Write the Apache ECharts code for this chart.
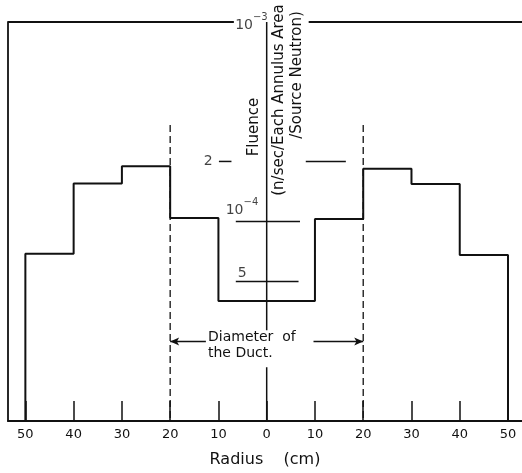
<!DOCTYPE html>
<html>
<head>
<meta charset="utf-8">
<script src="https://cdn.jsdelivr.net/npm/echarts@6/dist/echarts.min.js"></script>
<style>
html,body{margin:0;padding:0;background:#fff;}
#c{width:522px;height:473px;}
</style>
</head>
<body>
<div id="c"></div>
<script>
// ---- data ----
var binEdges = [-50, -40, -30, -20, -10, 10, 20, 30, 40, 50];
var fluence = [6.9e-5, 1.55e-4, 1.89e-4, 1.04e-4, 4.0e-5, 1.03e-4, 1.84e-4, 1.54e-4, 6.8e-5];
var xTickValues = [-50, -40, -30, -20, -10, 0, 10, 20, 30, 40, 50];
var yTickValues = [1e-3, 2e-4, 1e-4, 5e-5];
var yTickTexts = ['{b|10}{s|−3}', '2', '{b|10}{s|−4}', '5'];
var ductEdges = [-20, 20];
var yMin = 1e-5, yMax = 1e-3;

// ---- build step outline ----
var stepPts = [[binEdges[0], yMin]];
for (var i = 0; i < fluence.length; i++) {
  stepPts.push([binEdges[i], fluence[i]]);
  stepPts.push([binEdges[i + 1], fluence[i]]);
}
stepPts.push([binEdges[binEdges.length - 1], yMin]);

var ink = '#111';
var FONT = 'DejaVu Sans';
function seg(data, w, type) {
  return {type: 'line', data: data, symbol: 'none', silent: true, z: 3,
    lineStyle: {color: ink, width: w, type: type || 'solid'}, clip: false};
}

var series = [];
series.push(seg(stepPts, 2));
// top frame line (with gap for label)
series.push(seg([[-53.6, yMax], [-6.8, yMax]], 1.8));
series.push(seg([[8.7, yMax], [52.9, yMax]], 1.8));
// central vertical axis (broken for annotation)
series.push(seg([[0, yMax], [0, 2.85e-5]], 1.5));
series.push(seg([[0, 1.86e-5], [0, yMin]], 1.5));
// y tick segments
series.push(seg([[-9.9, 2e-4], [-7.3, 2e-4]], 1.5));
series.push(seg([[8.1, 2e-4], [16.4, 2e-4]], 1.5));
series.push(seg([[-6.4, 1e-4], [6.9, 1e-4]], 1.5));
series.push(seg([[-6.4, 5e-5], [6.6, 5e-5]], 1.5));
// duct dashed lines
ductEdges.forEach(function (d) {
  series.push(seg([[d, 3.05e-4], [d, yMin]], 1.3, [7, 4]));
});
// arrows
series.push({
  type: 'line', data: [], silent: true,
  markLine: {
    silent: true, symbol: ['none', 'arrow'], symbolSize: [6, 9], label: {show: false},
    lineStyle: {color: ink, width: 1.3, type: 'solid'},
    data: [
      [{coord: [-12.6, 2.5e-5]}, {coord: [ductEdges[0], 2.5e-5]}],
      [{coord: [9.7, 2.5e-5]}, {coord: [ductEdges[1], 2.5e-5]}]
    ]
  }
});
// y tick labels
var labelPos = [
  {position: [1, 0], align: 'right', verticalAlign: 'middle'},
  {position: [-54, 0], align: 'right', verticalAlign: 'middle'},
  {position: [-41, -4], align: 'left', verticalAlign: 'bottom'},
  {position: [-29, -1], align: 'left', verticalAlign: 'bottom'}
];
series.push({
  type: 'scatter', symbolSize: 0, silent: true, z: 5,
  data: yTickValues.map(function (v, k) {
    return {value: [0, v], label: Object.assign({show: true, formatter: yTickTexts[k]}, labelPos[k])};
  }),
  label: {
    color: ink, fontFamily: FONT, fontSize: 14,
    rich: {
      b: {fontSize: 14, fontFamily: FONT, color: ink, lineHeight: 20, verticalAlign: 'bottom'},
      s: {fontSize: 10, fontFamily: FONT, color: ink, lineHeight: 20, verticalAlign: 'top'}
    }
  }
});

var chart = echarts.init(document.getElementById('c'), null, {renderer: 'canvas'});
chart.setOption({
  animation: false,
  backgroundColor: '#fff',
  grid: {left: 8, right: 0, top: 22, bottom: 51, containLabel: false},
  xAxis: {
    type: 'value', min: -53.6, max: 52.9,
    axisLine: {show: true, onZero: false, lineStyle: {color: ink, width: 1.8}},
    axisTick: {show: true, inside: true, length: 20, customValues: xTickValues, lineStyle: {color: ink, width: 1.5}},
    axisLabel: {show: true, customValues: xTickValues, margin: 7, color: ink, fontSize: 13, fontFamily: FONT,
      formatter: function (v) { return String(Math.abs(v)); }},
    splitLine: {show: false},
    name: 'Radius    (cm)', nameLocation: 'middle', nameGap: 31,
    nameTextStyle: {color: ink, fontSize: 16, fontFamily: FONT}
  },
  yAxis: {
    type: 'log', min: yMin, max: yMax, logBase: 10,
    axisLine: {show: true, onZero: false, lineStyle: {color: ink, width: 1.8}},
    axisTick: {show: false}, axisLabel: {show: false}, splitLine: {show: false}, minorTick: {show: false}
  },
  graphic: [
    {type: 'text', x: 254, y: 127, rotation: Math.PI / 2, z: 10,
      style: {text: 'Fluence', fontSize: 15, fontFamily: FONT, fill: ink, align: 'center', verticalAlign: 'middle'}},
    {type: 'text', x: 279, y: 100, rotation: Math.PI / 2, z: 10,
      style: {text: '(n/sec/Each Annulus Area', fontSize: 15, fontFamily: FONT, fill: ink, align: 'center', verticalAlign: 'middle'}},
    {type: 'text', x: 297, y: 75, rotation: Math.PI / 2, z: 10,
      style: {text: '/Source Neutron)', fontSize: 15, fontFamily: FONT, fill: ink, align: 'center', verticalAlign: 'middle'}},
    {type: 'text', x: 208, y: 337, z: 10,
      style: {text: 'Diameter  of', fontSize: 14, fontFamily: FONT, fill: ink, align: 'left', verticalAlign: 'middle'}},
    {type: 'text', x: 208, y: 353, z: 10,
      style: {text: 'the Duct.', fontSize: 14, fontFamily: FONT, fill: ink, align: 'left', verticalAlign: 'middle'}}
  ],
  series: series
});
</script>
</body>
</html>
